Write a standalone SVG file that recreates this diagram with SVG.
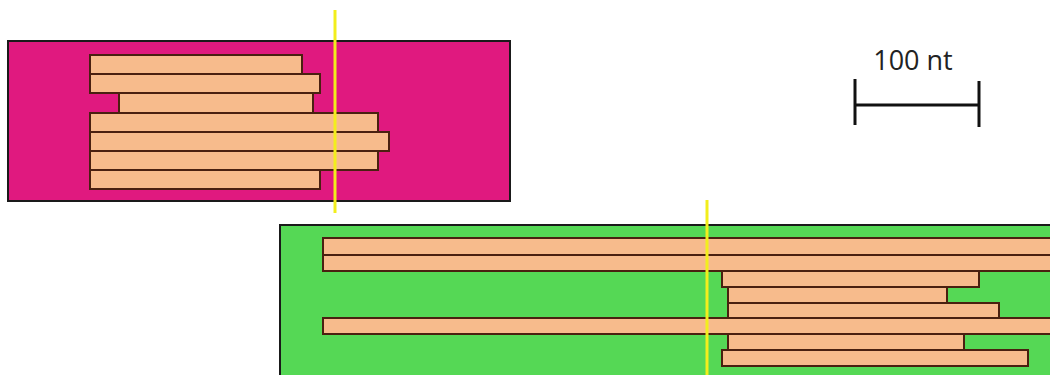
<svg xmlns="http://www.w3.org/2000/svg" width="1050" height="375" viewBox="0 0 1050 375">
<style>
.bar{fill:#f7bb8c;stroke:#4a2010;stroke-width:2}
.bg{stroke:#1a1a1a;stroke-width:2}
.yl{stroke:#f2ee1c;stroke-width:3}
.sc{stroke:#111;stroke-width:3;fill:none}
.lbl{font-family:"Open Sans","Liberation Sans",sans-serif;font-size:27px;fill:#222}
</style>
<rect width="1050" height="375" fill="#ffffff"/>
<g id="pink-panel">
<rect class="bg" x="8" y="41" width="502" height="160" fill="#e0197f"/>
<rect class="bar" x="90" y="55" width="212" height="19"/>
<rect class="bar" x="90" y="74" width="230" height="19"/>
<rect class="bar" x="119" y="93" width="194" height="20"/>
<rect class="bar" x="90" y="113" width="288" height="19"/>
<rect class="bar" x="90" y="132" width="299" height="19"/>
<rect class="bar" x="90" y="151" width="288" height="19"/>
<rect class="bar" x="90" y="170" width="230" height="19"/>
<line class="yl" x1="335" y1="10" x2="335" y2="213"/>
</g>
<g id="green-panel">
<rect class="bg" x="280" y="225" width="775" height="160" fill="#55d855"/>
<rect class="bar" x="323" y="238" width="740" height="17"/>
<rect class="bar" x="323" y="255" width="740" height="16"/>
<rect class="bar" x="722" y="271" width="257" height="16"/>
<rect class="bar" x="728" y="287" width="219" height="16"/>
<rect class="bar" x="728" y="303" width="271" height="15"/>
<rect class="bar" x="323" y="318" width="740" height="16"/>
<rect class="bar" x="728" y="334" width="236" height="16"/>
<rect class="bar" x="722" y="350" width="306" height="16"/>
<line class="yl" x1="707" y1="200" x2="707" y2="375"/>
</g>
<g id="scale-bar">
<text class="lbl" x="913" y="70" text-anchor="middle">100 nt</text>
<line class="sc" x1="855" y1="79" x2="855" y2="125"/>
<line class="sc" x1="979" y1="81" x2="979" y2="127"/>
<line class="sc" x1="855" y1="105" x2="979" y2="105"/>
</g>
</svg>
